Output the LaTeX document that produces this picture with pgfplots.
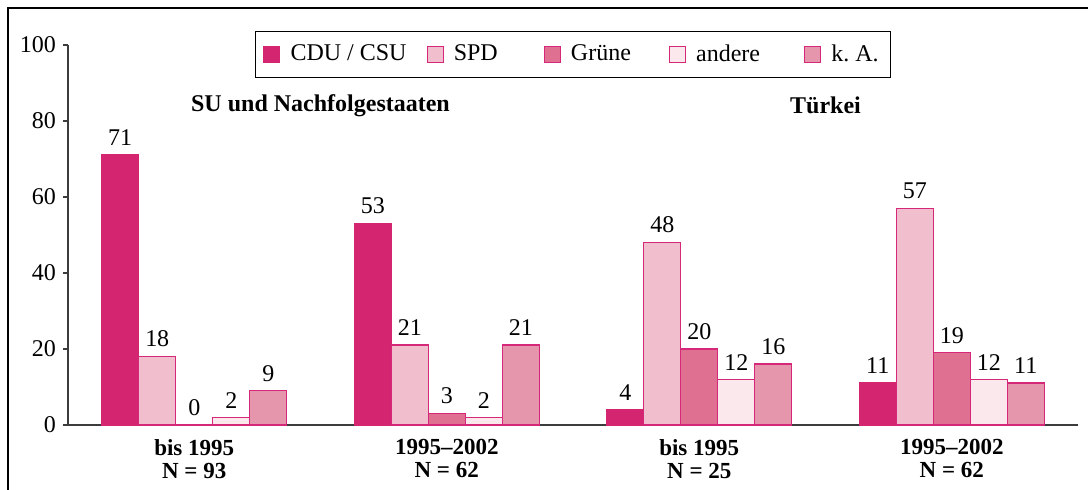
\documentclass[border=0pt]{standalone}
\usepackage{pgfplots}
\pgfplotsset{compat=1.18}
\usepackage{fontspec}
\setmainfont{Liberation Serif}
\definecolor{cdu}{RGB}{212,38,112}
\definecolor{spd}{RGB}{240,190,204}
\definecolor{gruene}{RGB}{224,112,146}
\definecolor{andere}{RGB}{250,232,236}
\definecolor{ka}{RGB}{229,150,172}
\definecolor{edge}{RGB}{214,40,120}
\definecolor{axgray}{RGB}{60,60,60}
\begin{document}
\begin{tikzpicture}
\begin{axis}[
  name=ax, at={(0,0)}, anchor=south west,
  scale only axis, width=505pt, height=190pt,
  ybar=0pt, bar width=18.5pt,
  xmin=-0.5, xmax=3.5, ymin=0, ymax=100,
  axis x line=bottom, axis y line=left,
  axis line style={axgray, line width=0.6pt, -},
  ytick={0,20,...,100},
  tick align=outside,
  major tick length=2.5pt,
  tick style={axgray, line width=0.6pt},
  xtick={0,1,2,3},
  xticklabels={{bis 1995\\N = 93},{1995--2002\\N = 62},{bis 1995\\N = 25},{1995--2002\\N = 62}},
  x tick style={draw=none},
  xticklabel style={align=center, font=\fontsize{11.5}{11.5}\selectfont\bfseries, yshift=-1pt},
  extra x ticks={0.5,1.5,2.5,3.5},
  extra x tick labels={},
  extra x tick style={tick style={draw=axgray, line width=0.6pt}, major tick length=2.5pt},
  yticklabel style={font=\fontsize{12}{13}\selectfont},
  /pgf/number format/assume math mode=true,
  nodes near coords,
  every node near coord/.append style={font=\fontsize{12}{13}\selectfont, black, yshift=1pt},
  legend style={at={(0.5,1.037)}, anchor=north, legend columns=5, draw=black, line width=0.6pt,
    font=\fontsize{12}{13}\selectfont, /tikz/every even column/.append style={column sep=8pt},
    inner xsep=4pt, inner ysep=4.5pt},
  legend image code/.code={\draw[#1, line width=0.5pt] (0pt,-4pt) rectangle (8pt,4pt); \path (11pt,0pt);},
  clip=false,
]
\addplot[fill=cdu, draw=cdu, line width=0.7pt] coordinates {(0,71) (1,53) (2,4) (3,11)};
\addplot[fill=spd, draw=edge, line width=0.7pt] coordinates {(0,18) (1,21) (2,48) (3,57)};
\addplot[fill=gruene, draw=edge, line width=0.7pt] coordinates {(0,0) (1,3) (2,20) (3,19)};
\addplot[fill=andere, draw=edge, line width=0.7pt] coordinates {(0,2) (1,2) (2,12) (3,12)};
\addplot[fill=ka, draw=edge, line width=0.7pt] coordinates {(0,9) (1,21) (2,16) (3,11)};
\legend{CDU / CSU, SPD\rule{13pt}{0pt}, Grüne\rule{9pt}{0pt}, andere\rule{12pt}{0pt}, k.\ A.}
\node[font=\fontsize{12}{13}\selectfont\bfseries] at (axis cs:0.5,84) {SU und Nachfolgestaaten};
\node[font=\fontsize{12}{13}\selectfont\bfseries] at (axis cs:2.5,84) {Türkei};
\end{axis}
\draw[black, line width=1.1pt] (-30pt,-32.5pt) -- (-30pt,208.5pt) -- (510pt,208.5pt);
\pgfresetboundingbox
\useasboundingbox (-34pt,-32.5pt) rectangle (510pt,212.5pt);
\end{tikzpicture}
\end{document}
